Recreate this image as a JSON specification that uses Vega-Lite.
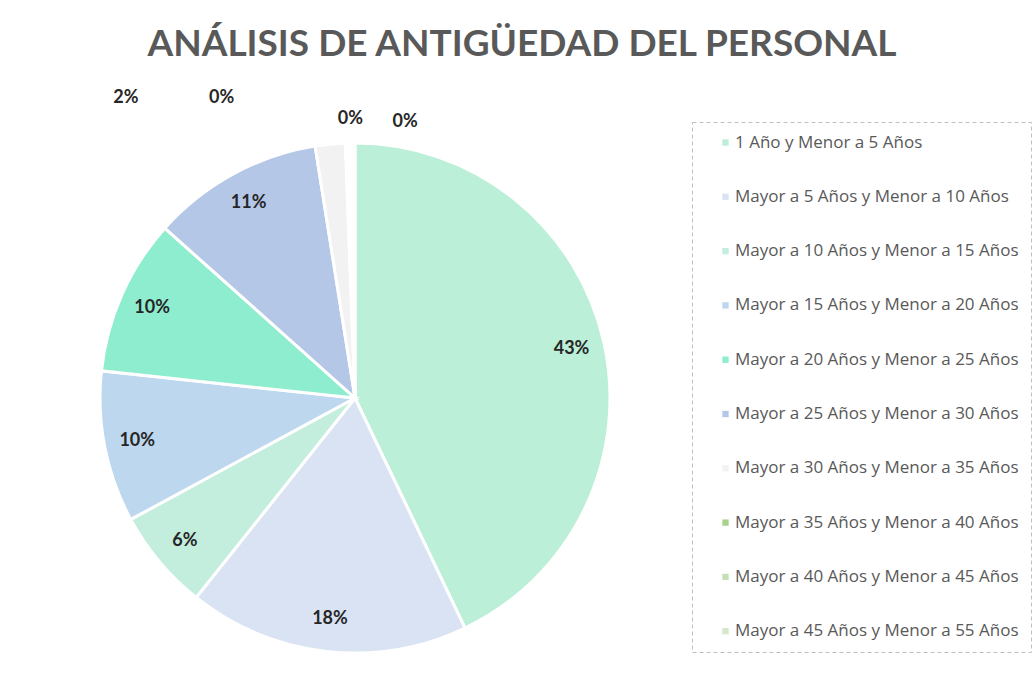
{
  "$schema": "https://vega.github.io/schema/vega-lite/v6.json",
  "width": 510,
  "height": 510,
  "autosize": {"type": "none"},
  "padding": {"left": 100, "top": 143, "right": 424, "bottom": 41},
  "background": "white",
  "title": {
    "text": "ANÁLISIS DE ANTIGÜEDAD DEL PERSONAL",
    "font": "Lato",
    "fontSize": 37,
    "fontWeight": "bold",
    "color": "#595959",
    "anchor": "middle",
    "dx": 167,
    "dy": 54,
    "offset": 78
  },
  "config": {
    "view": {"stroke": null},
    "legend": {"strokeDash": [4, 3], "strokeColor": "#BFBFBF"}
  },
  "data": {
    "values": [
      {"orden": 1, "rango": "1 Año y Menor a 5 Años", "valor": 0.429},
      {"orden": 2, "rango": "Mayor a 5 Años y Menor a 10 Años", "valor": 0.178},
      {"orden": 3, "rango": "Mayor a 10 Años y Menor a 15 Años", "valor": 0.064},
      {"orden": 4, "rango": "Mayor a 15 Años y Menor a 20 Años", "valor": 0.096},
      {"orden": 5, "rango": "Mayor a 20 Años y Menor a 25 Años", "valor": 0.099},
      {"orden": 6, "rango": "Mayor a 25 Años y Menor a 30 Años", "valor": 0.109},
      {"orden": 7, "rango": "Mayor a 30 Años y Menor a 35 Años", "valor": 0.019},
      {"orden": 8, "rango": "Mayor a 35 Años y Menor a 40 Años", "valor": 0.002},
      {"orden": 9, "rango": "Mayor a 40 Años y Menor a 45 Años", "valor": 0.002},
      {"orden": 10, "rango": "Mayor a 45 Años y Menor a 55 Años", "valor": 0.002}
    ]
  },
  "encoding": {
    "theta": {"field": "valor", "type": "quantitative", "stack": true},
    "order": {"field": "orden", "type": "quantitative"}
  },
  "layer": [
    {
      "mark": {"type": "arc", "stroke": "white", "strokeWidth": 3, "outerRadius": 255},
      "encoding": {
        "color": {
          "field": "rango",
          "type": "nominal",
          "sort": {"field": "orden"},
          "scale": {
            "domain": [
              "1 Año y Menor a 5 Años",
              "Mayor a 5 Años y Menor a 10 Años",
              "Mayor a 10 Años y Menor a 15 Años",
              "Mayor a 15 Años y Menor a 20 Años",
              "Mayor a 20 Años y Menor a 25 Años",
              "Mayor a 25 Años y Menor a 30 Años",
              "Mayor a 30 Años y Menor a 35 Años",
              "Mayor a 35 Años y Menor a 40 Años",
              "Mayor a 40 Años y Menor a 45 Años",
              "Mayor a 45 Años y Menor a 55 Años"
            ],
            "range": ["#BCEFD8", "#DAE3F3", "#C3EDDD", "#BDD7EE", "#8EEDCE", "#B4C7E7", "#F2F2F2", "#A9D18E", "#C5E0B4", "#D5E8CC"]
          },
          "legend": {
            "title": null,
            "orient": "none",
            "legendX": 592,
            "legendY": -21,
            "symbolType": "square",
            "symbolSize": 40,
            "symbolStrokeWidth": 0,
            "symbolOffset": 13,
            "labelFont": "Open Sans",
            "labelFontSize": 17,
            "labelColor": "#595959",
            "labelLimit": 400,
            "labelOffset": 1,
            "rowPadding": 36.3,
            "padding": 12
          }
        }
      }
    },
    {
      "mark": {"type": "text", "radius": 222, "font": "Lato", "fontSize": 18, "fontWeight": "bold", "color": "#262626"},
      "encoding": {
        "text": {"condition": {"test": "datum.valor >= 0.05", "field": "valor", "format": ".0%"}, "value": ""}
      }
    },
    {
      "mark": {"type": "text", "radius": 300, "dx": -200, "dy": -1, "font": "Lato", "fontSize": 18, "fontWeight": "bold", "color": "#262626"},
      "encoding": {
        "text": {"condition": {"test": "datum.orden == 7", "field": "valor", "format": ".0%"}, "value": ""}
      }
    },
    {
      "mark": {"type": "text", "radius": 300, "dx": -124, "dy": 0, "font": "Lato", "fontSize": 18, "fontWeight": "bold", "color": "#262626"},
      "encoding": {
        "text": {"condition": {"test": "datum.orden == 8", "field": "valor", "format": ".0%"}, "value": ""}
      }
    },
    {
      "mark": {"type": "text", "radius": 300, "dx": 1, "dy": 21, "font": "Lato", "fontSize": 18, "fontWeight": "bold", "color": "#262626"},
      "encoding": {
        "text": {"condition": {"test": "datum.orden == 9", "field": "valor", "format": ".0%"}, "value": ""}
      }
    },
    {
      "mark": {"type": "text", "radius": 300, "dx": 52, "dy": 24, "font": "Lato", "fontSize": 18, "fontWeight": "bold", "color": "#262626"},
      "encoding": {
        "text": {"condition": {"test": "datum.orden == 10", "field": "valor", "format": ".0%"}, "value": ""}
      }
    }
  ]
}
